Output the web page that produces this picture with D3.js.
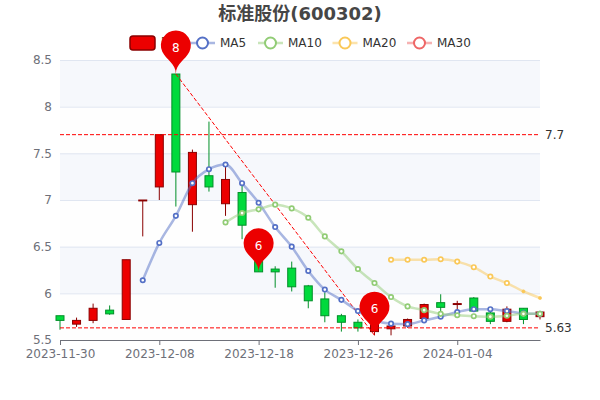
<!DOCTYPE html>
<html lang="zh">
<head>
<meta charset="UTF-8">
<title>标准股份(600302)</title>
<script src="https://d3js.org/d3.v7.min.js"></script>
<style>
    html, body { margin: 0; background: #fff; }
    svg { display: block; }
    text { font-family: "DejaVu Sans", "Noto Sans CJK SC", sans-serif; }
</style>
</head>
<body>
<svg width="600" height="400" id="mainsvg"></svg>
<script>
const dates = ["2023-11-30","2023-12-01","2023-12-04","2023-12-05","2023-12-06","2023-12-07","2023-12-08",
    "2023-12-11","2023-12-12","2023-12-13","2023-12-14","2023-12-15","2023-12-18","2023-12-19","2023-12-20",
    "2023-12-21","2023-12-22","2023-12-25","2023-12-26","2023-12-27","2023-12-28","2023-12-29","2024-01-02",
    "2024-01-03","2024-01-04","2024-01-05","2024-01-08","2024-01-09","2024-01-10","2024-01-11"];
const opens = [5.76,5.67,5.71,5.82,5.72,6.99,7.14,8.35,6.95,7.26,6.96,7.08,6.34,6.26,6.27,6.08,5.94,5.76,5.69,5.59,5.62,5.65,5.73,5.90,5.88,5.95,5.79,5.70,5.84,5.75];
const closes = [5.71,5.71,5.84,5.78,6.36,7.00,7.70,7.30,7.51,7.14,7.22,6.73,6.23,6.23,6.07,5.92,5.76,5.69,5.63,5.69,5.65,5.72,5.88,5.85,5.89,5.81,5.70,5.83,5.72,5.80];
const highs = [5.76,5.74,5.89,5.87,6.36,7.00,7.70,8.35,7.54,7.84,7.37,7.17,6.34,6.29,6.34,6.09,6.01,5.78,5.72,5.69,5.66,5.73,5.89,5.99,5.92,5.96,5.80,5.86,5.84,5.81];
const lows = [5.61,5.64,5.68,5.77,5.72,6.61,7.00,6.93,6.66,7.09,6.83,6.58,6.23,6.06,6.02,5.84,5.69,5.59,5.59,5.55,5.55,5.63,5.72,5.81,5.82,5.81,5.67,5.69,5.67,5.72];
const ma5 = [null,null,null,null,null,6.14,6.54,6.83,7.18,7.33,7.38,7.18,6.97,6.71,6.50,6.24,6.04,5.93,5.81,5.71,5.675,5.67,5.71,5.75,5.80,5.83,5.83,5.81,5.785,5.78];
const ma10 = [null,null,null,null,null,null,null,null,null,null,6.76,6.86,6.90,6.95,6.91,6.81,6.61,6.45,6.26,6.11,5.96,5.86,5.82,5.78,5.765,5.755,5.75,5.76,5.78,5.78];
const ma20 = [null,null,null,null,null,null,null,null,null,null,null,null,null,null,null,null,null,null,null,null,6.36,6.36,6.36,6.365,6.34,6.28,6.18,6.11,6.02,5.95];
const yTicks = [5.5,6,6.5,7,7.5,8,8.5];
const xTicks = ["2023-11-30","2023-12-08","2023-12-18","2023-12-26","2024-01-04"];
const pinIndex = [7,12,19];
const pinValues = [8.35,6.23,5.55];
const refValues = [7.7,5.63];

const upColor = "#ec0000", upBorder = "#8a0000", downColor = "#00da3c", downBorder = "#008f28";
const textColor = "#6e7079";

const svg = d3.select("#mainsvg");
const margin = {top: 60, right: 60, bottom: 60, left: 60},
    innerWidth = 600 - margin.left - margin.right,
    innerHeight = 400 - margin.top - margin.bottom;

const xScale = d3.scalePoint().domain(dates).range([margin.left, margin.left + innerWidth]);
const yScale = d3.scaleLinear().domain([5.5, 8.5]).range([margin.top + innerHeight, margin.top]);

// split areas, every other band tinted
svg.append("g").selectAll("rect").data(d3.pairs(yTicks)).join("rect")
    .attr("x", margin.left).attr("width", innerWidth)
    .attr("y", d => yScale(d[1])).attr("height", d => yScale(d[0]) - yScale(d[1]))
    .attr("fill", (d, i) => i % 2 ? "rgba(210,219,238,0.2)" : "rgba(250,250,250,0.2)");

const yAxis = d3.axisLeft(yScale).tickValues(yTicks).tickFormat(d3.format("~g"))
    .tickSize(-innerWidth).tickPadding(8);
svg.append("g").attr("transform", `translate(${margin.left},0)`).call(yAxis)
    .call(g => g.select(".domain").remove())
    .call(g => g.selectAll(".tick line").attr("stroke", "#e0e6f1"))
    .call(g => g.selectAll(".tick text").attr("fill", textColor).attr("font-size", 12));

const xAxis = d3.axisBottom(xScale).tickValues(xTicks).tickSize(5).tickSizeOuter(0).tickPadding(4);
svg.append("g").attr("transform", `translate(0,${margin.top + innerHeight})`).call(xAxis)
    .call(g => g.select(".domain").attr("stroke", textColor))
    .call(g => g.selectAll(".tick line").attr("stroke", textColor))
    .call(g => g.selectAll(".tick text").attr("fill", textColor).attr("font-size", 12));

// candlesticks
const candles = svg.append("g").selectAll("g").data(dates).join("g")
    .attr("transform", d => `translate(${xScale(d)},0)`);
const isUp = i => closes[i] >= opens[i];
candles.append("line")
    .attr("y1", (d, i) => yScale(highs[i])).attr("y2", (d, i) => yScale(lows[i]))
    .attr("stroke", (d, i) => isUp(i) ? upBorder : downBorder);
candles.append("rect")
    .attr("x", -4).attr("width", 8)
    .attr("y", (d, i) => yScale(Math.max(opens[i], closes[i])))
    .attr("height", (d, i) => Math.abs(yScale(opens[i]) - yScale(closes[i])))
    .attr("fill", (d, i) => isUp(i) ? upColor : downColor)
    .attr("stroke", (d, i) => isUp(i) ? upBorder : downBorder);

// reference lines
svg.append("g").selectAll("line").data(refValues).join("line")
    .attr("x1", margin.left).attr("x2", 538)
    .attr("y1", d => yScale(d)).attr("y2", d => yScale(d))
    .attr("stroke", "#f00").attr("stroke-dasharray", "4,2");
svg.append("g").selectAll("text").data(refValues).join("text")
    .attr("x", 545).attr("y", d => yScale(d)).attr("dy", "0.35em")
    .attr("font-size", 12).attr("fill", "#333").text(d => d);
svg.append("line")
    .attr("x1", xScale(dates[pinIndex[0]])).attr("y1", yScale(pinValues[0]))
    .attr("x2", xScale(dates[pinIndex[2]])).attr("y2", yScale(pinValues[2]))
    .attr("stroke", "#f00").attr("stroke-dasharray", "4,2");

// moving averages
const line = d3.line()
    .defined(d => d !== null)
    .x((d, i) => xScale(dates[i]))
    .y(d => yScale(d))
    .curve(d3.curveMonotoneX);
const maSeries = [
    {name: "MA5", values: ma5, color: "#5470c6"},
    {name: "MA10", values: ma10, color: "#91cc75"},
    {name: "MA20", values: ma20, color: "#fac858"},
    {name: "MA30", values: [], color: "#ee6666"}
];
maSeries.forEach(s => {
    svg.append("path").attr("d", line(s.values))
        .attr("fill", "none").attr("stroke", s.color).attr("stroke-width", 2.5).attr("stroke-opacity", 0.5);
    // the last two MA20 dots are still small and solid in the reference
    const small = (d) => s.name === "MA20" && d[1] >= dates.length - 2;
    svg.append("g").selectAll("circle")
        .data(s.values.map((v, i) => [v, i]).filter(d => d[0] !== null)).join("circle")
        .attr("cx", d => xScale(dates[d[1]])).attr("cy", d => yScale(d[0]))
        .attr("r", d => small(d) ? 1.6 : 2.2)
        .attr("fill", d => small(d) ? s.color : "#fff")
        .attr("stroke", s.color).attr("stroke-width", d => small(d) ? 0.6 : 1.7);
});

// legend
const legendX = [190, 258, 332.5, 407];
const legend = svg.append("g").selectAll("g").data(maSeries).join("g")
    .attr("transform", (d, i) => `translate(${legendX[i]},43)`);
legend.append("line").attr("x2", 25).attr("stroke", d => d.color).attr("stroke-width", 2.5).attr("stroke-opacity", 0.5);
legend.append("circle").attr("cx", 12.5).attr("r", 5.5).attr("fill", "#fff").attr("stroke", d => d.color).attr("stroke-width", 2);
legend.append("text").attr("x", 30).attr("dy", "0.35em").attr("font-size", 12).attr("fill", "#333").text(d => d.name);

svg.append("rect").attr("x", 130).attr("y", 36).attr("width", 25).attr("height", 14).attr("rx", 3)
    .attr("fill", upColor).attr("stroke", upBorder).attr("stroke-width", 1.5);
svg.append("text").attr("x", 160).attr("y", 43).attr("dy", "0.35em").attr("font-size", 12).attr("fill", "#333").text("日K");

// pins
function pinPath(x, y) {
    const r = 15, h = 50, dy = r * r / (h - r), cy = y - h + r + dy,
        angle = Math.asin(dy / r), dx = Math.cos(angle) * r,
        tanX = Math.sin(angle), tanY = Math.cos(angle), c1 = r * 0.6, c2 = r * 0.7;
    const p = d3.path();
    p.moveTo(x - dx, cy + dy);
    p.arc(x, cy, r, Math.PI - angle, Math.PI * 2 + angle);
    p.bezierCurveTo(x + dx - tanX * c1, cy + dy + tanY * c1, x, y - c2, x, y);
    p.bezierCurveTo(x, y - c2, x - dx + tanX * c1, cy + dy + tanY * c1, x - dx, cy + dy);
    p.closePath();
    return p.toString();
}
const pins = svg.append("g").selectAll("g").data(pinIndex).join("g");
pins.append("path")
    .attr("d", (d, i) => pinPath(xScale(dates[d]), yScale(pinValues[i])))
    .attr("fill", upColor);
pins.append("text")
    .attr("x", d => xScale(dates[d])).attr("y", (d, i) => yScale(pinValues[i]) - 26.5)
    .attr("dy", "0.35em").attr("text-anchor", "middle").attr("font-size", 12).attr("fill", "#fff")
    .text((d, i) => Math.round(pinValues[i]));

svg.append("text").attr("x", 300).attr("y", 14).attr("dy", "0.35em").attr("text-anchor", "middle")
    .attr("font-size", 18).attr("font-weight", "bold").attr("fill", "#464646").text("标准股份(600302)");
</script>
</body>
</html>
